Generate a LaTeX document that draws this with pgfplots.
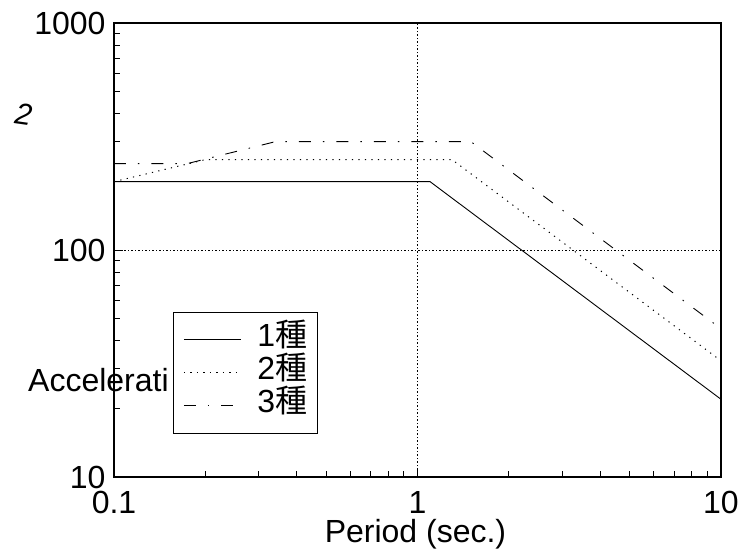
\documentclass[border=0pt]{standalone}
\usepackage{fontspec}
\setmainfont{Liberation Sans}
\newfontfamily\cjk{Noto Sans CJK JP}
\usepackage{pgfplots}
\pgfplotsset{compat=1.18}
\newcommand\lblfont{\fontsize{32bp}{35bp}\selectfont}

\begin{document}
\begin{tikzpicture}
\path[use as bounding box] (-114bp,-79bp) rectangle (625bp,477bp);
\begin{axis}[
  scale only axis, width=607bp, height=454bp,
  clip mode=individual,
  xmode=log, ymode=log,
  xmin=0.1, xmax=10, ymin=10, ymax=1000,
  xtick={0.1,1,10}, xticklabels={0.1,1,10},
  ytick={10,100,1000}, yticklabels={10,100,1000},
  minor xtick={0.2,0.3,0.4,0.5,0.6,0.7,0.8,0.9,2,3,4,5,6,7,8,9},
  minor ytick={20,30,40,50,60,70,80,90,200,300,400,500,600,700,800,900},
  tick pos=left, tick align=inside,
  major tick length=9bp, minor tick length=6bp,
  tick style={black, line width=0.8bp},
  axis line style={line width=1.2bp},
  grid=major,
  major grid style={black, line width=0.7bp, dash pattern=on 1.5bp off 2bp},
  ticklabel style={font=\lblfont},
  xticklabel style={yshift=-11bp},
  yticklabel style={xshift=-5bp},
  xlabel={Period (sec.)},
  xlabel style={font=\lblfont, at={(axis description cs:0.5,0)}, anchor=base,
                yshift=-66bp, xshift=-2bp, inner sep=0pt},
  legend style={at={(axis description cs:0.0972,0.3634)}, anchor=north west,
                draw=black, line width=0.8bp, fill=white, font=\lblfont,
                inner xsep=10bp, inner ysep=11bp,
                nodes={inner sep=0pt, text height=23bp, text depth=10bp},
                /tikz/every odd column/.append style={column sep=16bp}},
  legend cell align=left,
  legend image code/.code={\draw[#1] (0bp,0bp) -- (57bp,0bp);},
]
% partial axis title at the left
\node[font=\lblfont, anchor=base west, inner sep=0pt]
  at (axis description cs:0,0) [shift={(-86bp,85.3bp)}] {Accelerati};
\node[shift={(-90.5bp,362.5bp)}, rotate=-8,
      font=\fontsize{30bp}{31bp}\selectfont\itshape, inner sep=0pt]
  at (axis description cs:0,0) {2};

% ground type I
\addplot[black, line width=0.9bp] coordinates {
  (0.1,200) (1.1,200) (10,22)};
\addlegendentry{1{\cjk 種}}
% ground type II
\addplot[black, line width=1bp, dash pattern=on 1.2bp off 5.3bp] coordinates {
  (0.1,200) (0.2,250) (1.3,250) (10,32.5)};
\addlegendentry{2{\cjk 種}}
% ground type III
\addplot[black, line width=0.9bp, dash pattern=on 12bp off 12bp on 1.5bp off 12bp] coordinates {
  (0.1,240) (0.174,240) (0.34,300) (1.5,300) (10,45)};
\addlegendentry{3{\cjk 種}}
\end{axis}
\end{tikzpicture}
\end{document}
